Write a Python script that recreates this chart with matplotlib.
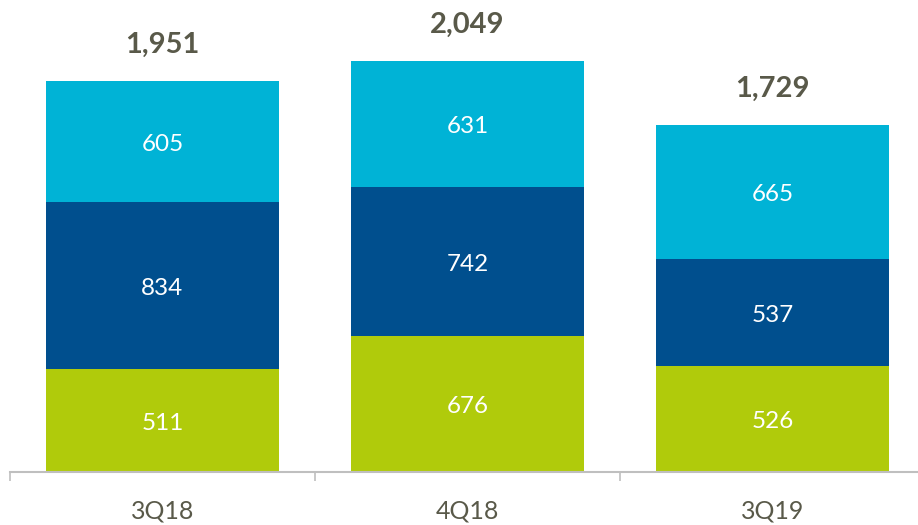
import matplotlib
matplotlib.use("Agg")
import matplotlib.pyplot as plt
import numpy as np

quarters = ["3Q18", "4Q18", "3Q19"]
bottom_vals = [511, 676, 526]
middle_vals = [834, 742, 537]
top_vals = [605, 631, 665]
totals = [1951, 2049, 1729]

GREEN = "#B0CB0B"
NAVY = "#004F8E"
CYAN = "#00B3D6"
TXT = "#595949"

plt.rcParams["font.family"] = ["Lato", "DejaVu Sans"]

fig = plt.figure(figsize=(9.18, 5.25), dpi=100)
ax = fig.add_axes([10 / 918, 53 / 525, 908 / 918, 472 / 525])

x = np.arange(len(quarters))
w = 0.767
b1 = np.array(bottom_vals)
b2 = b1 + np.array(middle_vals)
ax.bar(x, bottom_vals, w, color=GREEN)
ax.bar(x, middle_vals, w, bottom=b1, color=NAVY)
ax.bar(x, top_vals, w, bottom=b2, color=CYAN)

for i in range(len(quarters)):
    for base, v in [(0, bottom_vals[i]), (b1[i], middle_vals[i]), (b2[i], top_vals[i])]:
        ax.annotate(f"{v:,}", (x[i], base + v / 2), xytext=(0, -2),
                    textcoords="offset points", ha="center", va="center",
                    color="white", fontsize=17.5)
    ax.annotate(f"{totals[i]:,}", (x[i], b2[i] + top_vals[i]), xytext=(0, 26),
                textcoords="offset points", ha="center", va="center",
                color=TXT, fontsize=21, fontweight="bold")

ax.set_xlim(-0.5, -0.5 + 908 / 305)
ax.set_ylim(0, 472 / 0.2007)
for s in ["top", "right", "left"]:
    ax.spines[s].set_visible(False)
ax.spines["bottom"].set_color("#BFBFBF")
ax.spines["bottom"].set_linewidth(1.5)
ax.set_yticks([])
ax.set_xticks(x)
ax.set_xticklabels(quarters, fontsize=18, color=TXT)
ax.tick_params(axis="x", which="major", length=0, pad=20)
ax.set_xticks([-0.5, 0.5, 1.5], minor=True)
ax.tick_params(axis="x", which="minor", length=6.5, width=1.2, color="#BFBFBF")

fig.savefig("out.png", dpi=100)
